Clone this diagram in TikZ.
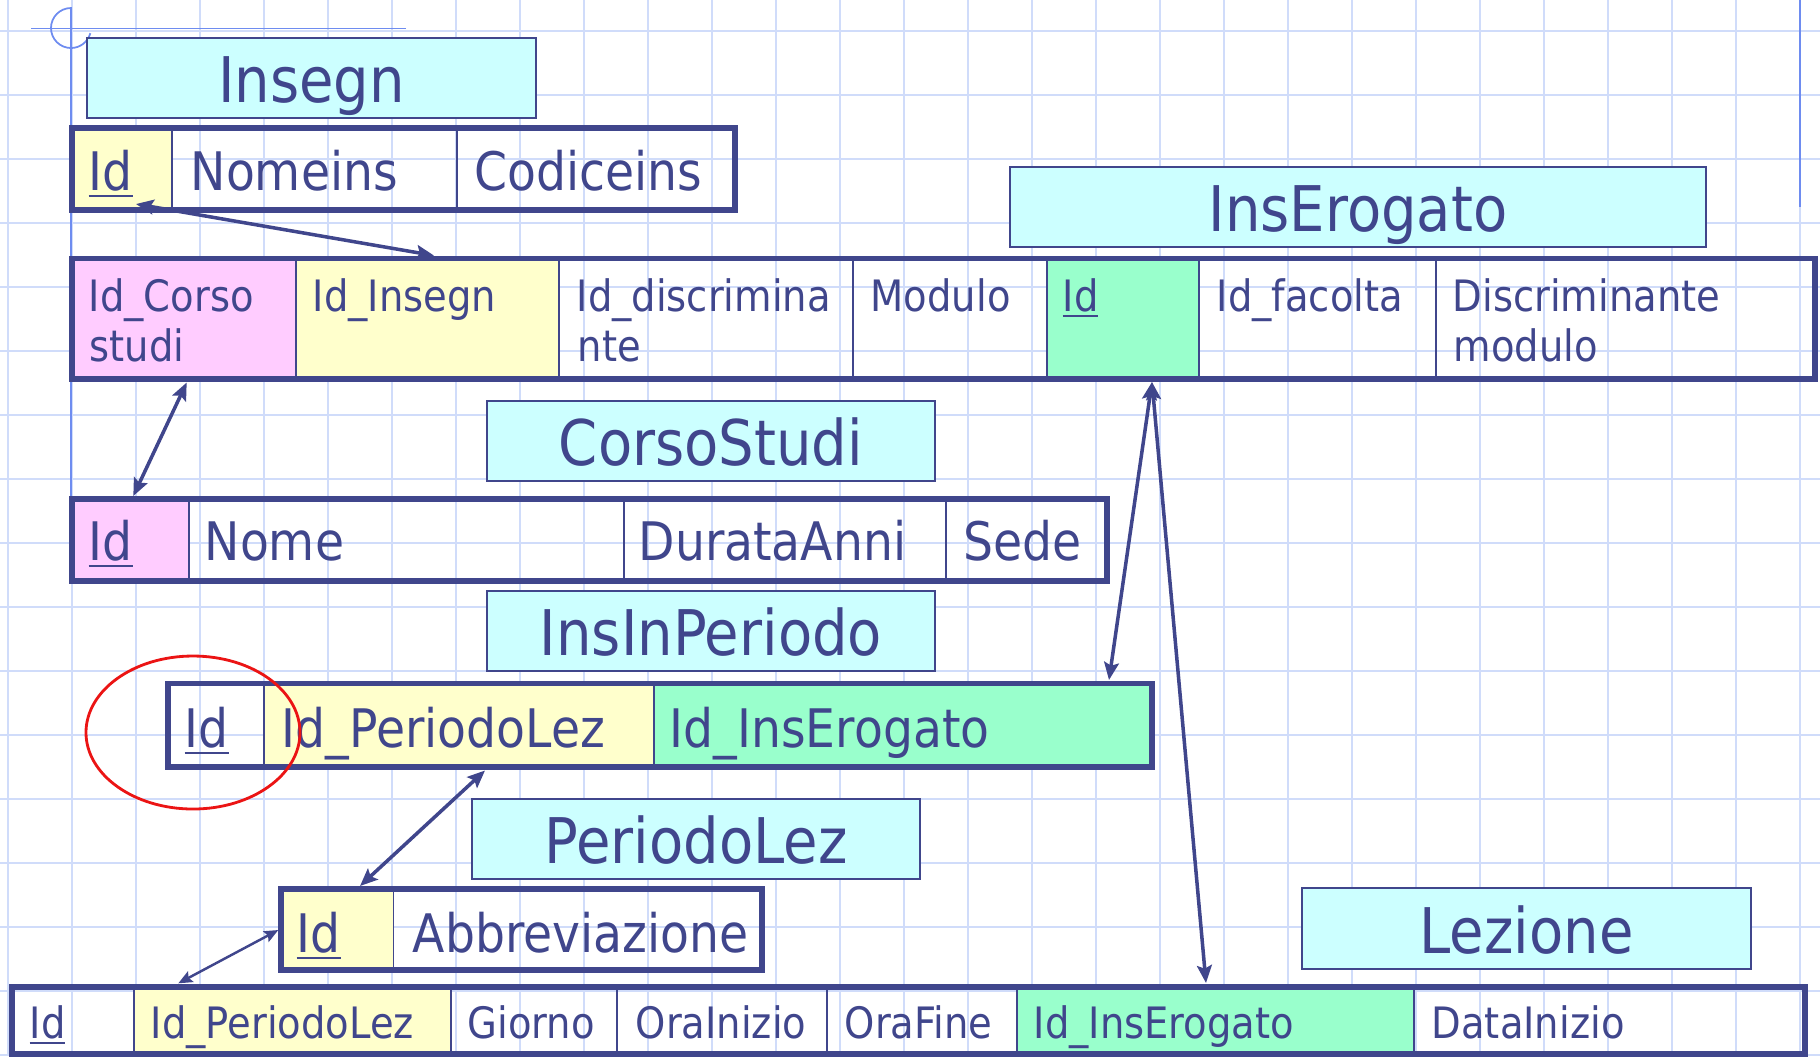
\documentclass[tikz,border=0pt]{standalone}
\usepackage{fontspec}
\setmainfont{DejaVu Sans}[FakeStretch=0.89]
\usetikzlibrary{arrows.meta}
\definecolor{ink}{RGB}{64,70,140}
\definecolor{hdr}{RGB}{204,255,255}
\definecolor{pinkc}{RGB}{255,204,255}
\definecolor{yelc}{RGB}{255,255,204}
\definecolor{grnc}{RGB}{153,255,204}
\definecolor{gridc}{RGB}{208,220,250}
\definecolor{guide}{RGB}{110,140,240}
\definecolor{ovalc}{RGB}{235,20,20}
\newcommand\ftitle{\fontsize{17.9pt}{21pt}\selectfont}
\newcommand\fbig{\fontsize{15.1pt}{18pt}\selectfont}
\newcommand\fsmall{\fontsize{12.3pt}{14.2pt}\selectfont}
\newcommand\keyid[1]{\setbox0=\hbox{#1}\rlap{\rule[-0.14em]{\wd0}{0.05em}}\box0}
\tikzset{
  gridline/.style={draw=gridc, line width=0.75pt},
  guideline/.style={draw=guide, line width=0.5pt},
  hdrbox/.style={draw=ink, fill=hdr, line width=0.6pt, inner sep=0pt, outer sep=0pt,
    text=ink, font=\ftitle, text height=14.2pt, text depth=0pt},
  tframe/.style={draw=ink, line width=1.45pt},
  tdiv/.style={draw=ink, line width=0.55pt},
  bigtxt/.style={anchor=base west, inner sep=0pt, text=ink, font=\fbig},
  smalltxt/.style={anchor=base west, inner sep=0pt, text=ink, font=\fsmall},
  link/.style={draw=ink, line width=1.0pt, >={Stealth[length=5pt,width=4.2pt,inset=0.9pt]}, <->},
  thinlink/.style={draw=ink, line width=0.7pt, >={Stealth[length=4pt,width=3.4pt,inset=0.7pt]}, <->},
  oval/.style={draw=ovalc, line width=0.8pt}
}
\begin{document}
\begin{tikzpicture}[x=0.01cm,y=-0.01cm]
\useasboundingbox (0,0) rectangle (1820,1056);
% grid
\foreach \gx in {8,72,...,1800} \draw[gridline] (\gx,0) -- (\gx,1056);
\foreach \gy in {31,95,...,1055} \draw[gridline] (0,\gy) -- (1820,\gy);
% guide lines
\draw[guideline] (71,7) -- (71,499);
\draw[guideline] (31,28.5) -- (406,28.5);
\draw[guideline] (1800,0) -- (1800,207);
\draw[guideline] (71,8) arc[start angle=-90, end angle=-345, radius=20];

% headers
\node[hdrbox, minimum width=4.49cm, minimum height=0.80cm] (hInsegn) at (311.5,78) {Insegn};
\node[hdrbox, minimum width=6.96cm, minimum height=0.80cm] (hInsErogato) at (1358,207) {InsErogato};
\node[hdrbox, minimum width=4.48cm, minimum height=0.80cm] (hCorsoStudi) at (711,440.7) {CorsoStudi};
\node[hdrbox, minimum width=4.48cm, minimum height=0.80cm] (hInsInPeriodo) at (711,630.7) {InsInPeriodo};
\node[hdrbox, minimum width=4.48cm, minimum height=0.80cm] (hPeriodoLez) at (696,839) {PeriodoLez};
\node[hdrbox, minimum width=4.49cm, minimum height=0.81cm] (hLezione) at (1526.5,928.5) {Lezione};

% Insegn table
\fill[yelc] (72,128) rectangle (172,210);
\draw[tdiv] (172,128) -- (172,210) (457,128) -- (457,210);
\draw[tframe] (72,128) rectangle (735,210);
\node[bigtxt] (iId) at (88,190) {\keyid{Id}};
\node[bigtxt] (iNome) at (190,190) {Nomeins};
\node[bigtxt] (iCod) at (474,190) {Codiceins};

% InsErogato table
\fill[pinkc] (72,258.5) rectangle (296,379);
\fill[yelc] (296,258.5) rectangle (559,379);
\fill[grnc] (1047,258.5) rectangle (1199,379);
\draw[tdiv] (296,258.5) -- (296,379) (559,258.5) -- (559,379) (853,258.5) -- (853,379)
  (1047,258.5) -- (1047,379) (1199,258.5) -- (1199,379) (1436,258.5) -- (1436,379);
\draw[tframe] (72,258.5) rectangle (1815,379);
\node[smalltxt] (eCorso) at (88,311) {Id\_Corso};
\node[smalltxt] (eCorso2) at (89,361) {studi};
\node[smalltxt] (eIns) at (312,311) {Id\_Insegn};
\node[smalltxt] (eDisc) at (576,311) {Id\_discrimina};
\node[smalltxt] (eDisc2) at (577,361) {nte};
\node[smalltxt] (eMod) at (870,311) {Modulo};
\node[smalltxt] (eId) at (1062,311) {\keyid{Id}};
\node[smalltxt] (eFac) at (1216,311) {Id\_facolta};
\node[smalltxt] (eDm) at (1452,311) {Discriminante};
\node[smalltxt] (eDm2) at (1453,361) {modulo};

% CorsoStudi table
\fill[pinkc] (72,499) rectangle (189,581);
\draw[tdiv] (189,499) -- (189,581) (624,499) -- (624,581) (946,499) -- (946,581);
\draw[tframe] (72,499) rectangle (1107,581);
\node[bigtxt] (cId) at (88,560) {\keyid{Id}};
\node[bigtxt] (cNome) at (204,560) {Nome};
\node[bigtxt] (cDur) at (638,560) {DurataAnni};
\node[bigtxt] (cSede) at (963,560) {Sede};

% InsInPeriodo table
\fill[yelc] (264,683.5) rectangle (654,767);
\fill[grnc] (654,683.5) rectangle (1152,767);
\draw[tdiv] (264,683.5) -- (264,767) (654,683.5) -- (654,767);
\draw[tframe] (168,683.5) rectangle (1152,767);
\node[bigtxt] (pId) at (184,747) {\keyid{Id}};
\node[bigtxt] (pPer) at (281,747) {Id\_PeriodoLez};
\node[bigtxt] (pIE) at (669,747) {Id\_InsErogato};

% PeriodoLez table
\fill[yelc] (281,889) rectangle (393.5,970);
\draw[tdiv] (393.5,889) -- (393.5,970);
\draw[tframe] (281,889) rectangle (762,970);
\node[bigtxt] (lId) at (296,952) {\keyid{Id}};
\node[bigtxt] (lAbb) at (412,952) {Abbreviazione};

% Lezione table
\fill[yelc] (134,987) rectangle (451,1054);
\fill[grnc] (1017,987) rectangle (1414,1054);
\draw[tdiv] (134,987) -- (134,1054) (451,987) -- (451,1054) (617,987) -- (617,1054)
  (827,987) -- (827,1054) (1017,987) -- (1017,1054) (1414,987) -- (1414,1054);
\draw[tframe] (12,987) rectangle (1805,1054);
\node[smalltxt] (zId) at (29,1038) {\keyid{Id}};
\node[smalltxt] (zPer) at (150,1038) {Id\_PeriodoLez};
\node[smalltxt] (zGio) at (467,1038) {Giorno};
\node[smalltxt] (zOi) at (635,1038) {OraInizio};
\node[smalltxt] (zOf) at (844,1038) {OraFine};
\node[smalltxt] (zIE) at (1033,1038) {Id\_InsErogato};
\node[smalltxt] (zDi) at (1431,1038) {DataInizio};

% connector end points
\coordinate (a1s) at (136,204);
\coordinate (a1e) at (434,255.5);
\coordinate (a2s) at (186.7,382.5);
\coordinate (a2e) at (133.3,496);
\coordinate (a3s) at (1152,382);
\coordinate (a3e) at (1109,680);
\coordinate (a4e) at (1206,983);
\coordinate (a5s) at (485,770.5);
\coordinate (a5e) at (360,886);
\coordinate (a6s) at (278.3,930);
\coordinate (a6e) at (178.3,983.3);

\draw[link] (a1s) -- (a1e);
\draw[link] (a2s) -- (a2e);
\draw[link] (a3s) -- (a3e);
\draw[link] (a3s) -- (a4e);
\draw[link] (a5s) -- (a5e);
\draw[thinlink] (a6s) -- (a6e);

% red oval
\draw[oval] (193,732.5) ellipse [x radius=107, y radius=76.5];
\end{tikzpicture}
\end{document}
